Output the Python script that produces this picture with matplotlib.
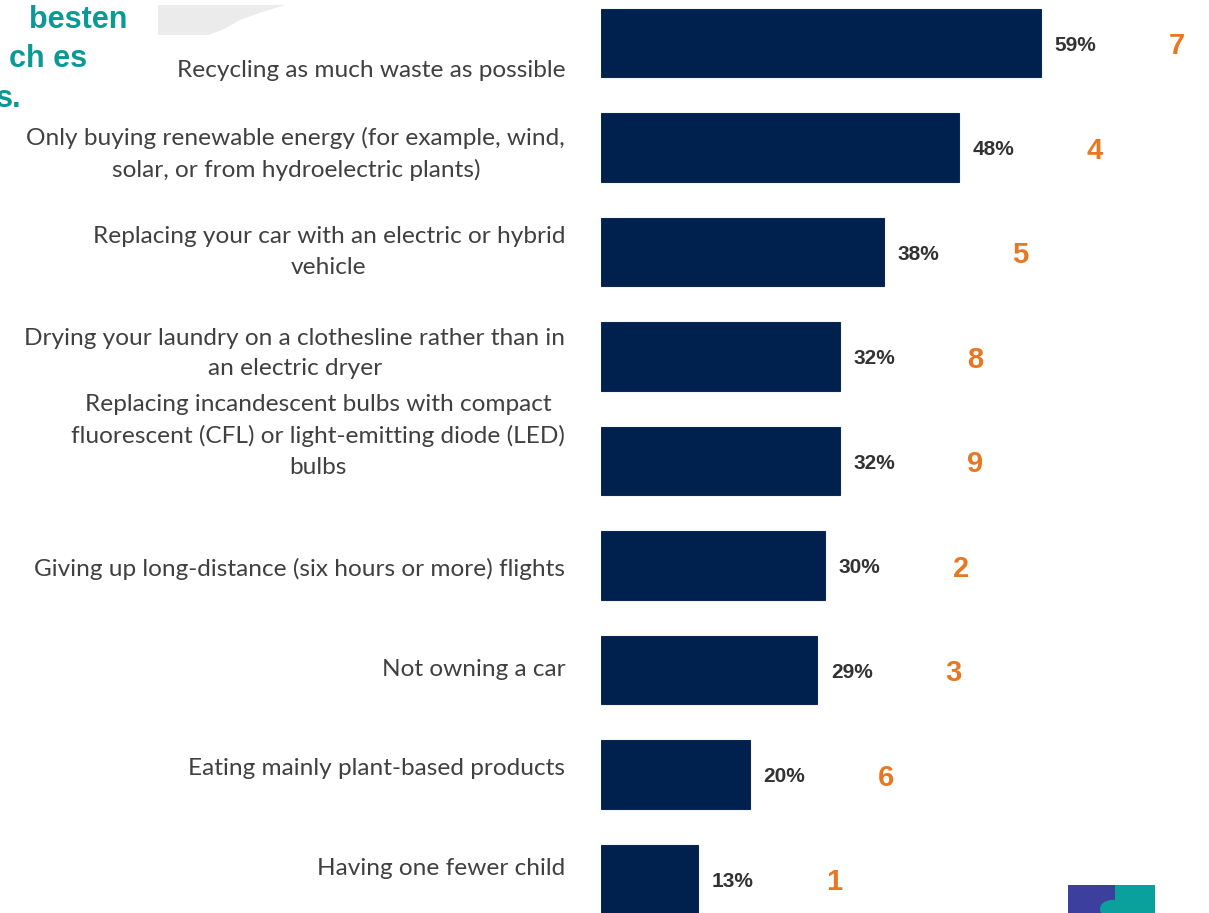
import matplotlib.pyplot as plt
from matplotlib.patches import Polygon, Rectangle, Circle

categories = [
    "Recycling as much waste as possible",
    "Only buying renewable energy (for example, wind,\nsolar, or from hydroelectric plants)",
    "Replacing your car with an electric or hybrid\nvehicle",
    "Drying your laundry on a clothesline rather than in\nan electric dryer",
    "Replacing incandescent bulbs with compact\nfluorescent (CFL) or light-emitting diode (LED)\nbulbs",
    "Giving up long-distance (six hours or more) flights",
    "Not owning a car",
    "Eating mainly plant-based products",
    "Having one fewer child",
]
values = [59, 48, 38, 32, 32, 30, 29, 20, 13]
ranks = [7, 4, 5, 8, 9, 2, 3, 6, 1]
title_lines = ["besten", "ch es", "s."]

W, H = 1209, 913
fig = plt.figure(figsize=(W / 100, H / 100), dpi=100)

# axes placed so that x=0 sits at the bars' left edge
px_per_unit = 7.46
x0 = 601
row0, row_step = 43, 104.5
ax = fig.add_axes([x0 / W, 0, 1 - x0 / W, 1])
ax.set_xlim(0, (W - x0) / px_per_unit)
ax.set_ylim((H - row0) / row_step, -row0 / row_step)
ax.axis("off")

ys = list(range(len(values)))
ax.barh(ys, values, height=0.66, color="#00214d", edgecolor="#0a2a55", linewidth=0.8)

for y, v, r in zip(ys, values, ranks):
    ax.text(v + 1.8, y + 0.02, f"{v}%", ha="left", va="center",
            fontsize=15, fontweight="bold", color="#333333", family="Liberation Sans")
    ax.text(v + 18.2, y + 0.03, str(r), ha="center", va="center",
            fontsize=21, fontweight="bold", color="#e87722", family="Liberation Sans")

# category labels, right aligned left of the bars (small vertical offsets as in the slide)
label_offsets = [0.26, 0.06, 0.0, -0.03, -0.24, 0.03, 0.0, -0.06, -0.1]
for y, lab, off in zip(ys, categories, label_offsets):
    ax.text(-4.8, y + off, lab, ha="right", va="center", multialignment="center",
            fontsize=17.6, color="#404040", family="Lato", linespacing=1.55,
            clip_on=False)

# cropped slide title fragments (teal)
title_pos = [(127, 20), (87, 59), (22, 99)]
for (xr, yc), t in zip(title_pos, title_lines):
    fig.text(xr / W, 1 - yc / H, t, ha="right", va="center", fontsize=22,
             fontweight="bold", color="#0a9a96", family="Liberation Sans")

# light grey image fragment at top
shape = [(158, 5), (285, 5), (262, 12), (240, 20), (222, 30), (208, 35), (158, 35)]
fig.patches.append(Polygon([(x / W, 1 - y / H) for x, y in shape], closed=True,
                           transform=fig.transFigure, facecolor="#ebebeb", edgecolor="none"))

# logo fragment bottom right
fig.patches.append(Rectangle((1068 / W, 0), 47 / W, 28 / H, transform=fig.transFigure,
                             facecolor="#3d3f9e", edgecolor="none"))
fig.patches.append(Rectangle((1115 / W, 0), 40 / W, 28 / H, transform=fig.transFigure,
                             facecolor="#0aa09c", edgecolor="none"))
fig.patches.append(Circle((1112 / W, 4 / H), 12 / W, transform=fig.transFigure,
                          facecolor="#0aa09c", edgecolor="none"))

fig.savefig("out.png", dpi=100)
